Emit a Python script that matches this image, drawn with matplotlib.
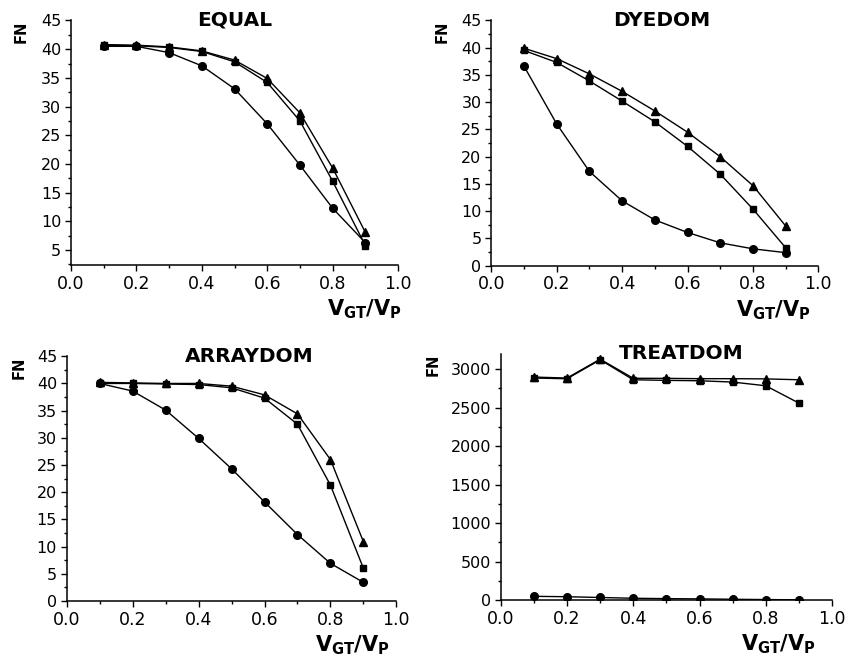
import matplotlib
matplotlib.use("Agg")
import matplotlib.pyplot as plt
from matplotlib.ticker import MultipleLocator

plt.rcParams['font.family'] = ['DejaVu Sans']
plt.rcParams['mathtext.fontset'] = 'dejavusans'
plt.rcParams['mathtext.default'] = 'bf'

x = [0.1, 0.2, 0.3, 0.4, 0.5, 0.6, 0.7, 0.8, 0.9]

equal_circ = [40.5, 40.5, 39.4, 37.1, 33.1, 27.0, 19.8, 12.3, 6.3]
equal_sq = [40.7, 40.6, 40.3, 39.6, 37.8, 34.2, 27.5, 17.0, 5.8]
equal_tri = [40.8, 40.7, 40.4, 39.7, 38.1, 34.9, 28.9, 19.3, 8.1]

dye_circ = [36.6, 26.0, 17.3, 11.9, 8.4, 6.1, 4.2, 3.1, 2.4]
dye_sq = [39.5, 37.3, 33.9, 30.2, 26.4, 21.9, 16.8, 10.4, 3.3]
dye_tri = [39.9, 38.0, 35.2, 32.0, 28.4, 24.5, 20.0, 14.7, 7.3]

array_circ = [40.0, 38.6, 35.1, 29.9, 24.3, 18.2, 12.2, 6.9, 3.4]
array_sq = [40.0, 40.0, 39.9, 39.8, 39.2, 37.3, 32.5, 21.3, 6.0]
array_tri = [40.2, 40.1, 40.0, 40.0, 39.5, 37.9, 34.4, 26.0, 10.9]

treat_circ = [50, 45, 35, 25, 20, 17, 12, 8, 5]
treat_sq = [2883, 2874, 3120, 2861, 2853, 2848, 2831, 2783, 2558]
treat_tri = [2896, 2883, 3128, 2880, 2879, 2875, 2875, 2872, 2861]

titles = ["EQUAL", "DYEDOM", "ARRAYDOM", "TREATDOM"]
series = [
    (equal_circ, equal_sq, equal_tri),
    (dye_circ, dye_sq, dye_tri),
    (array_circ, array_sq, array_tri),
    (treat_circ, treat_sq, treat_tri),
]

# axes boxes in figure fraction [left, bottom, width, height]
boxes = [
    [0.083, 0.599, 0.382, 0.370],
    [0.574, 0.598, 0.382, 0.371],
    [0.078, 0.091, 0.385, 0.370],
    [0.585, 0.092, 0.387, 0.373],
]
ylims = [(2.4, 45), (0, 45), (0, 45), (0, 3200)]
ymajor = [5, 5, 5, 500]
title_x = [0.50, 0.522, 0.554, 0.544]
xlabel_x = [1.012, 0.978, 0.982, 0.952]
fn_px = [50, 49, 48, 68]   # FN label distance left of the y axis, pixels

fig = plt.figure(figsize=(8.56, 6.61), dpi=100)

for i in range(4):
    ax = fig.add_axes(boxes[i])
    circ, sq, tri = series[i]
    kw = dict(color='black', lw=1.0)
    ax.plot(x, circ, marker='o', ms=5.5, **kw)
    ax.plot(x, sq, marker='s', ms=4.8, **kw)
    ax.plot(x, tri, marker='^', ms=6.0, **kw)

    ax.set_xlim(0, 1.0)
    ax.set_ylim(*ylims[i])
    ax.xaxis.set_major_locator(MultipleLocator(0.2))
    ax.xaxis.set_minor_locator(MultipleLocator(0.1))
    ax.yaxis.set_major_locator(MultipleLocator(ymajor[i]))
    ax.yaxis.set_minor_locator(MultipleLocator(ymajor[i] / 2))
    ax.xaxis.set_major_formatter(lambda v, p: f"{v:.1f}")
    ax.yaxis.set_major_formatter(lambda v, p: f"{v:.0f}")

    for s in ['top', 'right']:
        ax.spines[s].set_visible(False)
    for s in ['left', 'bottom']:
        ax.spines[s].set_linewidth(1.1)
    ax.tick_params(which='major', direction='out', length=4.5, width=1.0, pad=2.5)
    ax.tick_params(which='minor', direction='out', length=2.5, width=1.0)
    ax.tick_params(axis='x', labelsize=12.5)
    ax.tick_params(axis='y', labelsize=11.5)

    ax_w = boxes[i][2] * 856
    ax.text(title_x[i], 0.978, titles[i], transform=ax.transAxes, ha='center',
            va='baseline', fontsize=14.5, fontweight='bold')
    ax.text(-fn_px[i] / ax_w, 1.0, "FN", transform=ax.transAxes, rotation=90,
            ha='center', va='top', fontsize=10.5, fontweight='bold')
    ax.text(xlabel_x[i], -0.205, r'$V_{GT}/V_{P}$', transform=ax.transAxes,
            ha='right', va='baseline', fontsize=15)

fig.savefig("out.png", dpi=100)
